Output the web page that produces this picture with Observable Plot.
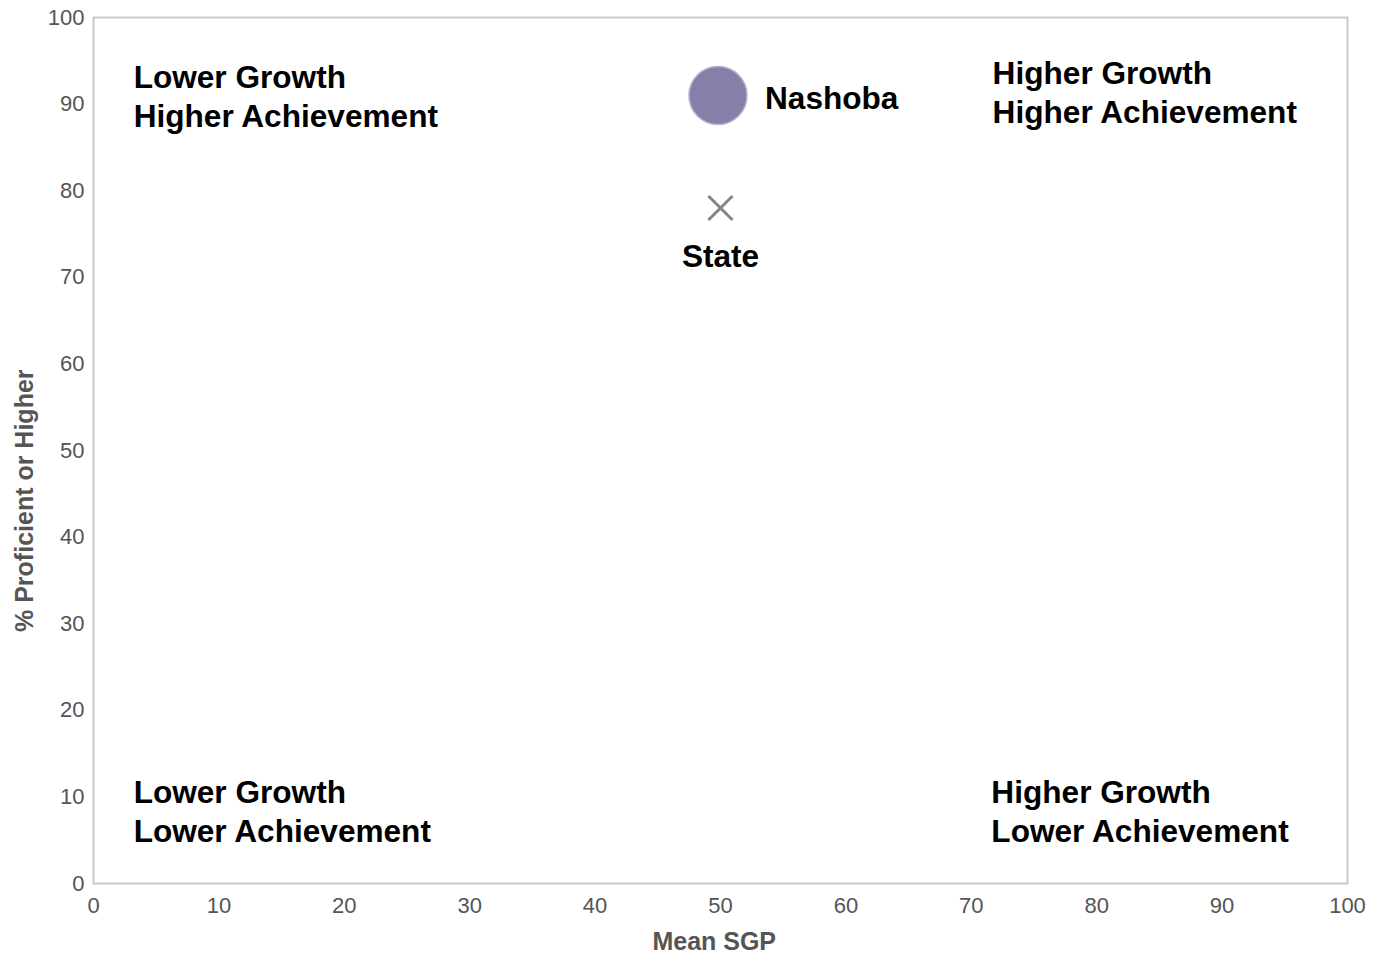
<!DOCTYPE html>
<html>
<head>
<meta charset="utf-8">
<script src="https://cdn.jsdelivr.net/npm/d3@7"></script>
<script src="https://cdn.jsdelivr.net/npm/@observablehq/plot@0.6"></script>
<style>
  html, body { margin: 0; padding: 0; background: #fff; }
  svg { font-family: "Liberation Sans", Arial, sans-serif; }
</style>
</head>
<body>
<div id="chart"></div>
<script>
// Data
const names = ["Nashoba", "State"];
const meanSGP = [49.8, 50];
const pctProficient = [91, 78];
const xTicks = [0, 10, 20, 30, 40, 50, 60, 70, 80, 90, 100];
const yTicks = [0, 10, 20, 30, 40, 50, 60, 70, 80, 90, 100];
const quadrantLabels = [
  "Lower Growth\nHigher Achievement",
  "Higher Growth\nHigher Achievement",
  "Lower Growth\nLower Achievement",
  "Higher Growth\nLower Achievement"
];
const xLabel = "Mean SGP";
const yLabel = "% Proficient or Higher";

const points = names.map((n, i) => ({name: n, x: meanSGP[i], y: pctProficient[i]}));
const district = points.filter(d => d.name !== "State");
const state = points.filter(d => d.name === "State");

const qPos = [[3.2, 91.0], [71.7, 91.5], [3.2, 8.5], [71.6, 8.5]];
const quads = quadrantLabels.map((t, i) => ({t, x: qPos[i][0], y: qPos[i][1]}));

const chart = Plot.plot({
  width: 1373,
  height: 954,
  marginLeft: 93,
  marginRight: 26,
  marginTop: 17,
  marginBottom: 71,
  x: {domain: [0, 100], ticks: xTicks},
  y: {domain: [0, 100], ticks: yTicks},
  marks: [
    Plot.frame({stroke: "#c9c9c9", strokeWidth: 2}),
    Plot.axisX({ticks: xTicks, tickSize: 0, tickPadding: 14, fontSize: 22, color: "#555", label: null}),
    Plot.axisY({ticks: yTicks, tickSize: 0, tickPadding: 9, fontSize: 22, color: "#555", label: null}),
    Plot.text(quads, {x: "x", y: "y", text: "t", textAnchor: "start", lineAnchor: "middle",
      lineHeight: 1.23, fontSize: 31.6, fontWeight: "bold", fill: "#000"}),
    Plot.dot(district, {x: "x", y: "y", r: 29, fill: "#8580a8", stroke: "#b4b1c9", strokeWidth: 1.5}),
    Plot.text(district, {x: "x", y: "y", text: "name", dx: 47, dy: 3, textAnchor: "start",
      fontSize: 31.6, fontWeight: "bold", fill: "#000"}),
    Plot.dot(state, {x: "x", y: "y", symbol: "times", r: 11, stroke: "#858585", strokeWidth: 3}),
    Plot.text(state, {x: "x", y: "y", text: "name", dy: 49, textAnchor: "middle",
      fontSize: 31.6, fontWeight: "bold", fill: "#000"}),
    Plot.text([xLabel], {x: () => 49.5, y: () => 0, text: d => d, dy: 58, fontSize: 25,
      fontWeight: "bold", fill: "#555", clip: false}),
    Plot.text([yLabel], {x: () => 0, y: () => 44.2, text: d => d, dx: -69, rotate: -90, fontSize: 25,
      fontWeight: "bold", fill: "#555", clip: false})
  ]
});
document.getElementById("chart").appendChild(chart);
</script>
</body>
</html>
